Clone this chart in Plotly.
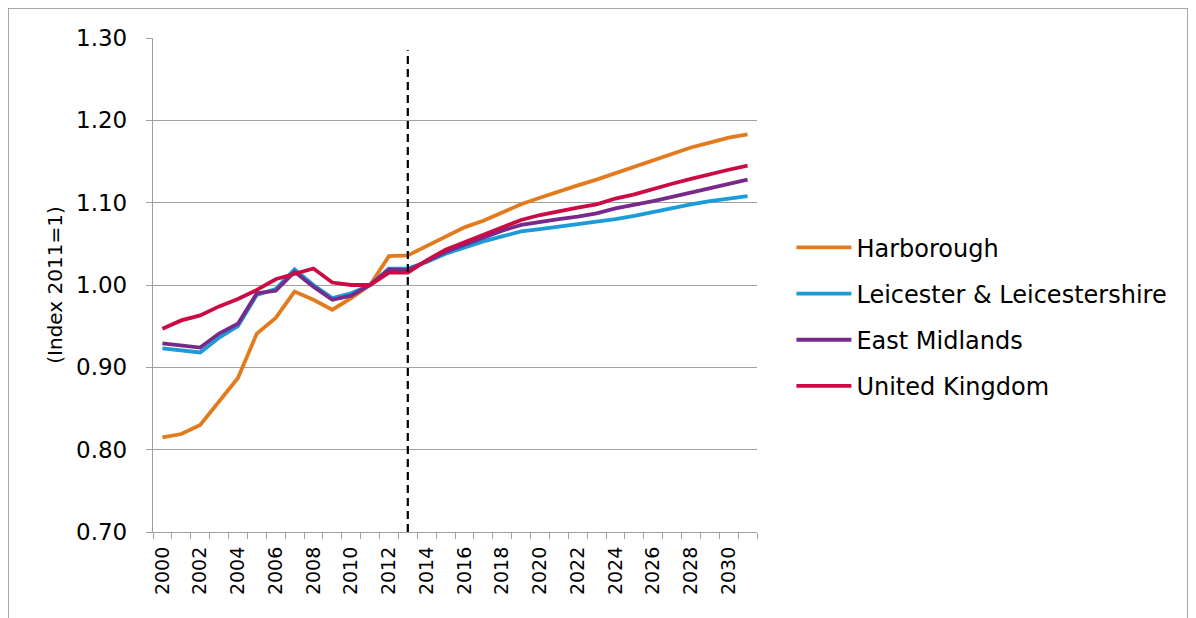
import plotly.graph_objects as go

years = list(range(2000, 2032))
harborough = [0.815, 0.819, 0.830, 0.858, 0.887, 0.941, 0.960, 0.992, 0.982, 0.970,
              0.984, 1.000, 1.035, 1.036, 1.047, 1.058, 1.070, 1.078, 1.088, 1.098,
              1.106, 1.114, 1.121, 1.128, 1.136, 1.144, 1.152, 1.160, 1.167, 1.173,
              1.179, 1.183]
leics = [0.923, 0.921, 0.918, 0.936, 0.950, 0.988, 0.995, 1.019, 1.000, 0.984,
         0.990, 1.000, 1.020, 1.020, 1.028, 1.038, 1.046, 1.053, 1.059, 1.065,
         1.068, 1.071, 1.073, 1.076, 1.080, 1.084, 1.089, 1.094, 1.098, 1.102,
         1.105, 1.108]
east_midlands = [0.929, 0.927, 0.924, 0.941, 0.953, 0.990, 0.993, 1.016, 0.998, 0.982,
                 0.987, 1.000, 1.019, 1.018, 1.029, 1.040, 1.049, 1.058, 1.066, 1.073,
                 1.077, 1.080, 1.083, 1.087, 1.093, 1.097, 1.102, 1.107, 1.112, 1.118,
                 1.123, 1.128]
uk = [0.947, 0.957, 0.963, 0.974, 0.983, 0.994, 1.007, 1.014, 1.020, 1.003,
      1.000, 1.000, 1.015, 1.015, 1.030, 1.043, 1.052, 1.062, 1.071, 1.079,
      1.085, 1.090, 1.094, 1.098, 1.105, 1.110, 1.117, 1.123, 1.129, 1.135,
      1.140, 1.145]

series_names = ["Harborough", "Leicester & Leicestershire", "East Midlands", "United Kingdom"]
series_values = [harborough, leics, east_midlands, uk]
colors = ["#E37B1E", "#1B9BD8", "#782A8A", "#CC0A44"]

divider_year = 2013
divider_top = 1.285

FONT = "DejaVu Sans"

fig = go.Figure()
for name, vals, col in zip(series_names, series_values, colors):
    fig.add_trace(go.Scatter(x=years, y=vals, mode="lines", name=name,
                             legendgroup=name,
                             line=dict(color=col, width=3.8)))

fig.add_shape(type="line", xref="x", yref="y", x0=divider_year, x1=divider_year,
              y0=0.70, y1=divider_top, line=dict(color="black", width=2.2, dash="8px,5px"))

# outer frame
fig.add_shape(type="rect", xref="paper", yref="paper",
              x0=(8 - 153) / 604, x1=(1188 - 153) / 604,
              y0=-0.3, y1=1 + (38 - 8) / 494,
              line=dict(color="#8C8C8C", width=1.5), fillcolor="rgba(0,0,0,0)")

fig.update_layout(
    width=1196, height=618,
    margin=dict(l=145, r=447, t=30, b=94, autoexpand=False),
    paper_bgcolor="white", plot_bgcolor="white",
    font=dict(family=FONT, color="black"),
    showlegend=True,
    legend=dict(x=1.057, y=0.621, xanchor="left", yanchor="top",
                font=dict(family=FONT, size=24, color="black"),
                itemwidth=55,
                tracegroupgap=12, bgcolor="rgba(0,0,0,0)"),
)

fig.update_xaxes(
    range=[1999.5, 2031.5], tick0=2000, dtick=2, tickmode="linear",
    ticks="", tickangle=-90, tickfont=dict(family=FONT, size=19),
    showgrid=False, showline=True, linecolor="#A0A0A0", linewidth=1.3,
    zeroline=False, ticklabelstandoff=6,
    minor=dict(tick0=1999.5, dtick=1, ticks="outside", ticklen=6,
               tickcolor="#A0A0A0", tickwidth=1.3, showgrid=False),
)
fig.update_yaxes(
    range=[0.70, 1.30], tick0=0.70, dtick=0.10, tickmode="linear", tickformat=".2f",
    ticks="outside", ticklen=6, tickcolor="#A0A0A0", tickwidth=1.3,
    tickfont=dict(family=FONT, size=23),
    showgrid=True, gridcolor="#A0A0A0", gridwidth=1.2,
    showline=True, linecolor="#A0A0A0", linewidth=1.3, zeroline=False,
    ticklabelstandoff=14,
    title=dict(text="(Index 2011=1)", font=dict(family=FONT, size=20), standoff=8),
)

fig.write_html("out.html")
